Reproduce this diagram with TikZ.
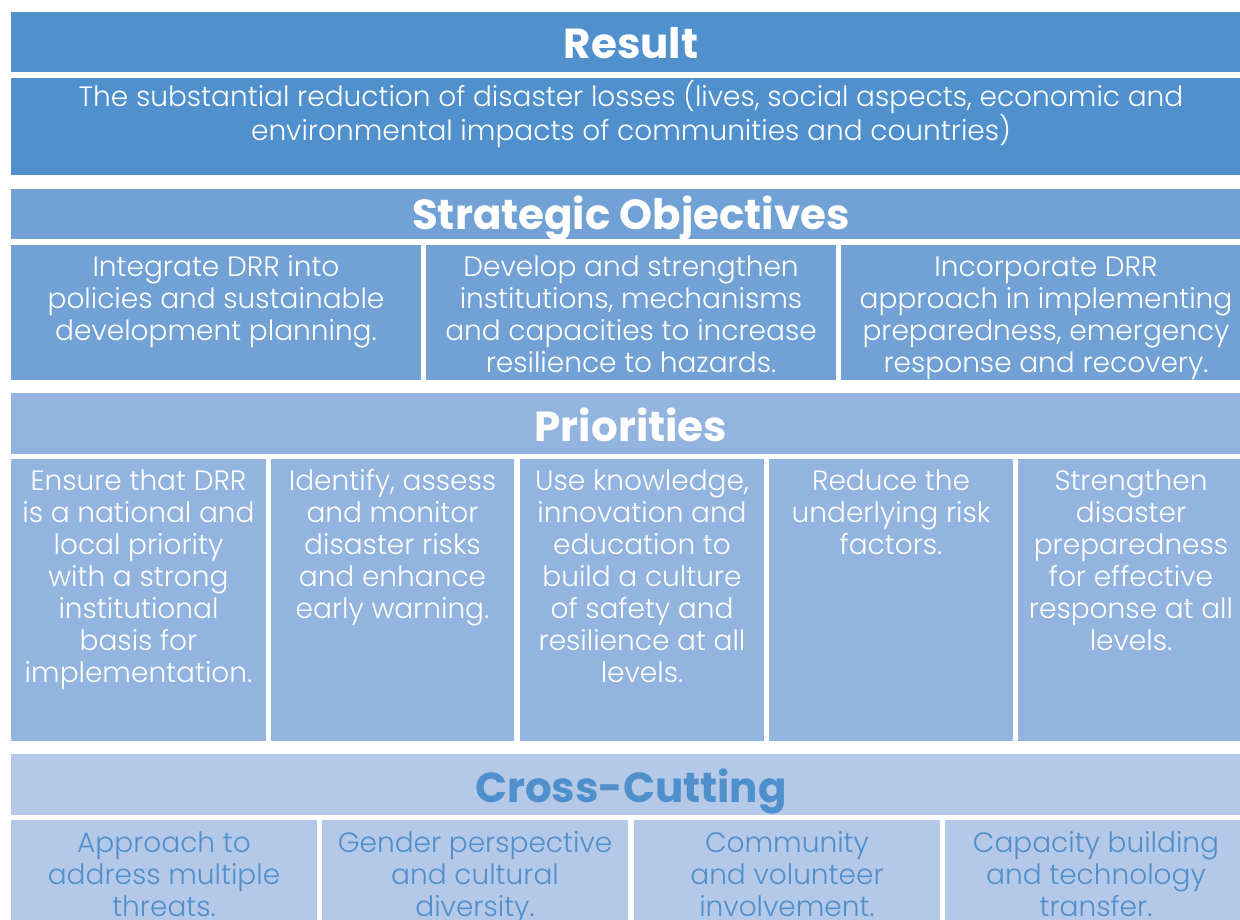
\documentclass[tikz,border=0pt]{standalone}
\usepackage{fontspec}
\setmainfont{Poppins}[UprightFont=* Light, BoldFont=* Bold]
\definecolor{cRes}{HTML}{4F90CD}
\definecolor{cStr}{HTML}{72A1D5}
\definecolor{cPri}{HTML}{93B4DF}
\definecolor{cCro}{HTML}{B4C9E8}
\definecolor{cCroText}{HTML}{4F8FCC}
\tikzset{
  bx/.style={rectangle, inner sep=0pt, draw=none, anchor=north west},
  hdtext/.style={inner sep=0pt, anchor=base, font=\fontsize{42}{46}\selectfont\bfseries},
  tx/.style={inner sep=0pt, anchor=base, align=center, font=\fontsize{28}{32}\selectfont},
}
\begin{document}
\begin{tikzpicture}[x=1pt,y=-1pt]
\useasboundingbox[fill=white] (0,0) rectangle (1240,920);
% Result
\node[bx, fill=cRes, minimum width=1229pt, minimum height=60pt] (reshead) at (11,12) {};
\node[bx, fill=cRes, minimum width=1229pt, minimum height=97pt] (resbody) at (11,78) {};
\node[hdtext, text=white] (restitle) at (631,59) {Result};
\node[tx, text=white] (restext) at (631,141) {The substantial reduction of disaster losses (lives, social aspects, economic and\\environmental impacts of communities and countries)};
% Strategic objectives
\node[bx, fill=cStr, minimum width=1229pt, minimum height=50pt] (strhead) at (11,189) {};
\node[hdtext, text=white] (strtitle) at (631,230) {Strategic Objectives};
\node[bx, fill=cStr, minimum width=410pt, minimum height=135pt] (strA) at (11,245) {};
\node[bx, fill=cStr, minimum width=410pt, minimum height=135pt] (strB) at (426,245) {};
\node[bx, fill=cStr, minimum width=399pt, minimum height=135pt] (strC) at (841,245) {};
\node[tx, text=white] (strAt) at (216,340) {Integrate DRR into\\policies and sustainable\\development planning.};
\node[tx, text=white] (strBt) at (631,372) {Develop and strengthen\\institutions, mechanisms\\and capacities to increase\\resilience to hazards.};
\node[tx, text=white] (strCt) at (1046,372) {Incorporate DRR\\approach in implementing\\preparedness, emergency\\response and recovery.};
% Priorities
\node[bx, fill=cPri, minimum width=1229pt, minimum height=61pt] (prihead) at (11,393) {};
\node[hdtext, text=white] (prititle) at (631,441) {Priorities};
\node[bx, fill=cPri, minimum width=255pt, minimum height=282pt] (priA) at (11,459) {};
\node[bx, fill=cPri, minimum width=243pt, minimum height=282pt] (priB) at (271,459) {};
\node[bx, fill=cPri, minimum width=244pt, minimum height=282pt] (priC) at (520,459) {};
\node[bx, fill=cPri, minimum width=244pt, minimum height=282pt] (priD) at (769,459) {};
\node[bx, fill=cPri, minimum width=222pt, minimum height=282pt] (priE) at (1018,459) {};
\node[tx, text=white] (priAt) at (138.5,682) {Ensure that DRR\\is a national and\\local priority\\with a strong\\institutional\\basis for\\implementation.};
\node[tx, text=white] (priBt) at (392.5,618) {Identify, assess\\and monitor\\disaster risks\\and enhance\\early warning.};
\node[tx, text=white] (priCt) at (642,682) {Use knowledge,\\innovation and\\education to\\build a culture\\of safety and\\resilience at all\\levels.};
\node[tx, text=white] (priDt) at (891,554) {Reduce the\\underlying risk\\factors.};
\node[tx, text=white] (priEt) at (1131,650) {Strengthen\\disaster\\preparedness\\for effective\\response at all\\levels.};
% Cross-cutting
\node[bx, fill=cCro, minimum width=1229pt, minimum height=61pt] (crohead) at (11,754) {};
\node[hdtext, text=cCroText] (crotitle) at (631,802) {Cross-Cutting};
\node[bx, fill=cCro, minimum width=306pt, minimum height=100pt] (croA) at (11,820) {};
\node[bx, fill=cCro, minimum width=306pt, minimum height=100pt] (croB) at (322,820) {};
\node[bx, fill=cCro, minimum width=306pt, minimum height=100pt] (croC) at (634,820) {};
\node[bx, fill=cCro, minimum width=295pt, minimum height=100pt] (croD) at (945,820) {};
\node[tx, text=cCroText] (croAt) at (164,916) {Approach to\\address multiple\\threats.};
\node[tx, text=cCroText] (croBt) at (475,916) {Gender perspective\\and cultural\\diversity.};
\node[tx, text=cCroText] (croCt) at (787,916) {Community\\and volunteer\\involvement.};
\node[tx, text=cCroText] (croDt) at (1096,916) {Capacity building\\and technology\\transfer.};
\end{tikzpicture}
\end{document}
